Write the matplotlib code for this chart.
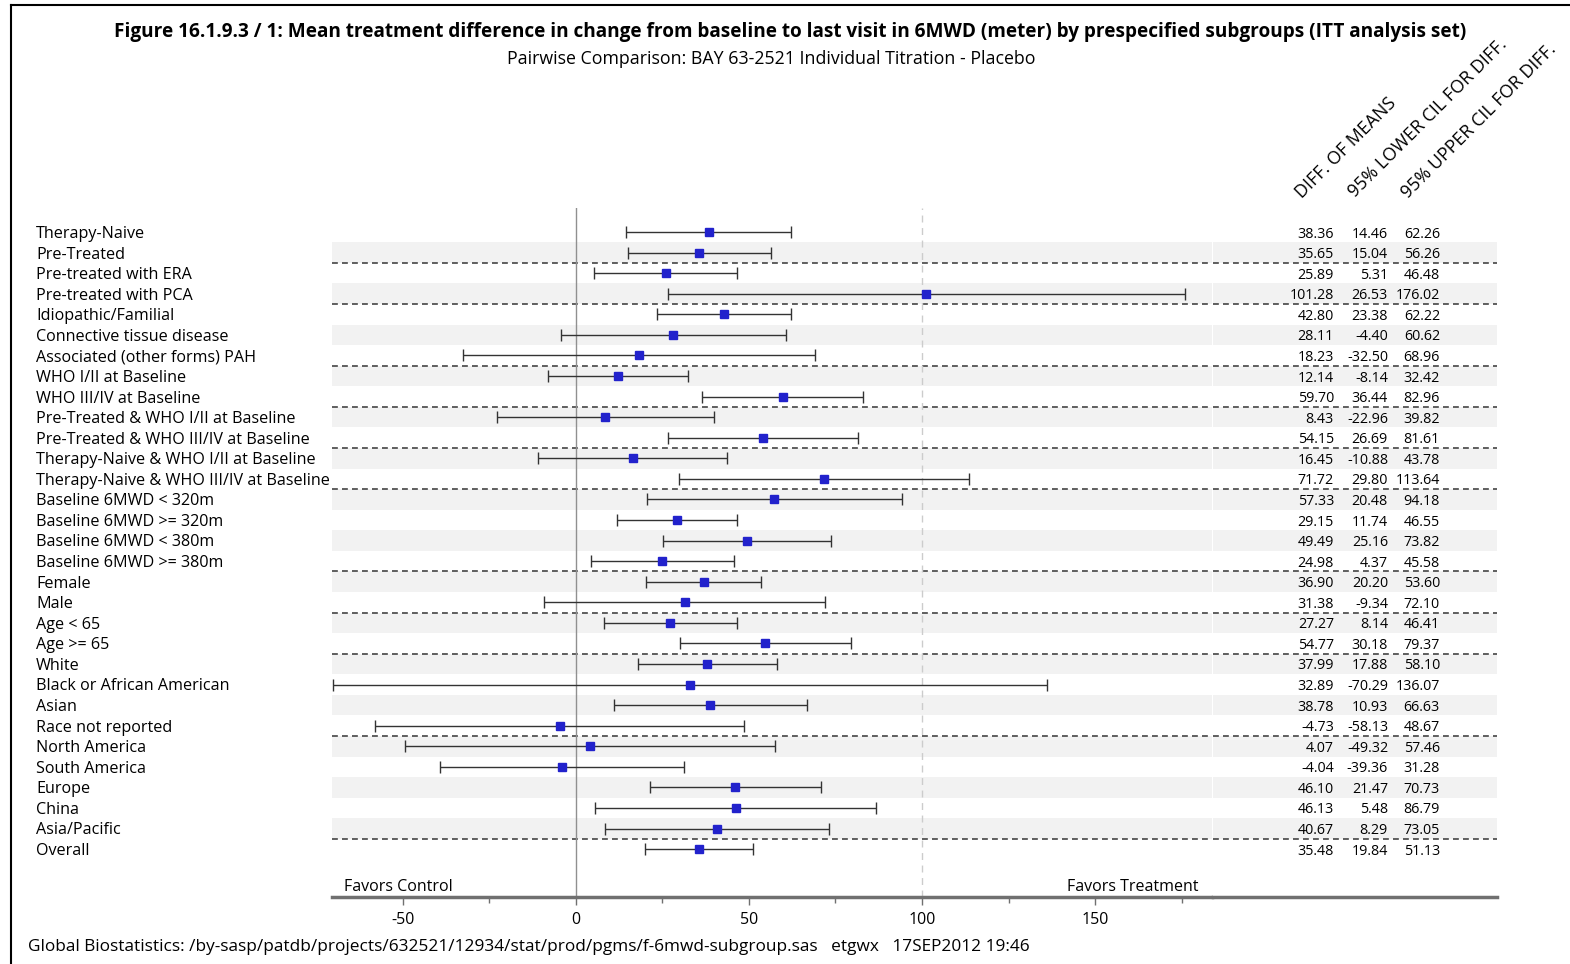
import matplotlib
matplotlib.use("Agg")
import matplotlib.pyplot as plt
from matplotlib.lines import Line2D
import numpy as np

plt.rcParams["font.family"] = ["Open Sans", "DejaVu Sans"]
plt.rcParams["axes.unicode_minus"] = False

# subgroup rows, top to bottom
subgroups = [
    "Therapy-Naive", "Pre-Treated", "Pre-treated with ERA", "Pre-treated with PCA",
    "Idiopathic/Familial", "Connective tissue disease", "Associated (other forms) PAH",
    "WHO I/II at Baseline", "WHO III/IV at Baseline",
    "Pre-Treated & WHO I/II at Baseline", "Pre-Treated & WHO III/IV at Baseline",
    "Therapy-Naive & WHO I/II at Baseline", "Therapy-Naive & WHO III/IV at Baseline",
    "Baseline 6MWD < 320m", "Baseline 6MWD >= 320m", "Baseline 6MWD < 380m",
    "Baseline 6MWD >= 380m", "Female", "Male", "Age < 65", "Age >= 65",
    "White", "Black or African American", "Asian", "Race not reported",
    "North America", "South America", "Europe", "China", "Asia/Pacific", "Overall",
]
diff_means = [38.36, 35.65, 25.89, 101.28, 42.80, 28.11, 18.23, 12.14, 59.70, 8.43,
              54.15, 16.45, 71.72, 57.33, 29.15, 49.49, 24.98, 36.90, 31.38, 27.27,
              54.77, 37.99, 32.89, 38.78, -4.73, 4.07, -4.04, 46.10, 46.13, 40.67, 35.48]
lower_ci = [14.46, 15.04, 5.31, 26.53, 23.38, -4.40, -32.50, -8.14, 36.44, -22.96,
            26.69, -10.88, 29.80, 20.48, 11.74, 25.16, 4.37, 20.20, -9.34, 8.14,
            30.18, 17.88, -70.29, 10.93, -58.13, -49.32, -39.36, 21.47, 5.48, 8.29, 19.84]
upper_ci = [62.26, 56.26, 46.48, 176.02, 62.22, 60.62, 68.96, 32.42, 82.96, 39.82,
            81.61, 43.78, 113.64, 94.18, 46.55, 73.82, 45.58, 53.60, 72.10, 46.41,
            79.37, 58.10, 136.07, 66.63, 48.67, 57.46, 31.28, 70.73, 86.79, 73.05, 51.13]
# last row index of each subgroup block (dashed separator below it)
group_ends = [1, 3, 6, 8, 10, 12, 16, 18, 20, 24, 29]

col_headers = ["DIFF. OF MEANS", "95% LOWER CIL FOR DIFF.", "95% UPPER CIL FOR DIFF."]
x_ticks = [-50, 0, 50, 100, 150]
x_minor = [-25, 25, 75, 125, 175]

W, H = 1570, 964
fig = plt.figure(figsize=(W / 100, H / 100), dpi=100)


def fx(px):
    return px / W


def fy(py):
    return 1 - py / H


n = len(subgroups)
rows = np.arange(n)
ylim = (32.33, -1.17)

ax = fig.add_axes([fx(332), fy(897), fx(1212) - fx(332), fy(208) - fy(897)])
tab = fig.add_axes([fx(1213), fy(897), fx(1497) - fx(1213), fy(208) - fy(897)])

band = "#f2f2f2"
for a in (ax, tab):
    a.set_ylim(*ylim)
    for i in rows[1::2]:
        a.axhspan(i - 0.5, i + 0.5, color=band, lw=0, zorder=0)
    for g in group_ends:
        a.axhline(g + 0.5, color="#444444", lw=1.2, ls=(0, (3.5, 2.5)), zorder=1)
    for s in ("top", "left", "right"):
        a.spines[s].set_visible(False)
    a.spines["bottom"].set_color("#707070")
    a.spines["bottom"].set_linewidth(2.5)
    a.set_yticks([])

# forest plot
ax.set_xlim(-70.5, 183.8)
ax.axvline(0, color="#909090", lw=1.0, zorder=1)
ax.axvline(100, color="#cccccc", lw=1.0, ls=(0, (5, 4)), zorder=1)
err = [np.array(diff_means) - np.array(lower_ci), np.array(upper_ci) - np.array(diff_means)]
ax.errorbar(diff_means, rows, xerr=err, fmt="s", color="#2222cc", ms=5.8,
            ecolor="#333333", elinewidth=1.0, capsize=4.5, capthick=1.0, zorder=3)
ax.set_xticks(x_ticks)
ax.set_xticks(x_minor, minor=True)
ax.tick_params(axis="x", which="major", length=6, width=1, color="#707070",
               labelsize=11.5, pad=5)
ax.tick_params(axis="x", which="minor", length=4, width=1, color="#707070")
ax.text(-67, 31.75, "Favors Control", fontsize=11.5, ha="left", va="center_baseline")
ax.text(180, 31.75, "Favors Treatment", fontsize=11.5, ha="right", va="center_baseline")

# table of estimates
tab.set_xlim(0, 284)
tab.set_xticks([])
for i in rows:
    for xr, v in zip((121, 175, 227), (diff_means[i], lower_ci[i], upper_ci[i])):
        tab.text(xr, i, f"{v:.2f}", fontsize=10.3, ha="right", va="center_baseline")

for (px, py), txt in zip([(1302, 199), (1355, 198), (1408, 199)], col_headers):
    fig.text(fx(px), fy(py), txt, fontsize=12.9, rotation=45, rotation_mode="anchor",
             ha="left", va="baseline")

# subgroup labels
for i, name in enumerate(subgroups):
    y_px = 232 + i * (849 - 232) / 30
    fig.text(fx(36), fy(y_px), name, fontsize=11.6, ha="left", va="center_baseline")

fig.text(fx(790), fy(30), "Figure 16.1.9.3 / 1: Mean treatment difference in change from baseline "
         "to last visit in 6MWD (meter) by prespecified subgroups (ITT analysis set)",
         fontsize=13.65, fontweight="bold", ha="center", va="center_baseline")
fig.text(fx(771), fy(57), "Pairwise Comparison: BAY 63-2521 Individual Titration - Placebo",
         fontsize=12.8, ha="center", va="center_baseline")
fig.text(fx(28), fy(945), "Global Biostatistics: /by-sasp/patdb/projects/632521/12934/stat/prod/"
         "pgms/f-6mwd-subgroup.sas   etgwx   17SEP2012 19:46", fontsize=12.4,
         ha="left", va="center_baseline")

# page frame
fig.add_artist(Line2D([fx(11), fx(11)], [fy(5), 0], color="black", lw=1.5))
fig.add_artist(Line2D([fx(11), 1], [fy(5), fy(5)], color="black", lw=1.5))

fig.savefig("out.png", dpi=100)
